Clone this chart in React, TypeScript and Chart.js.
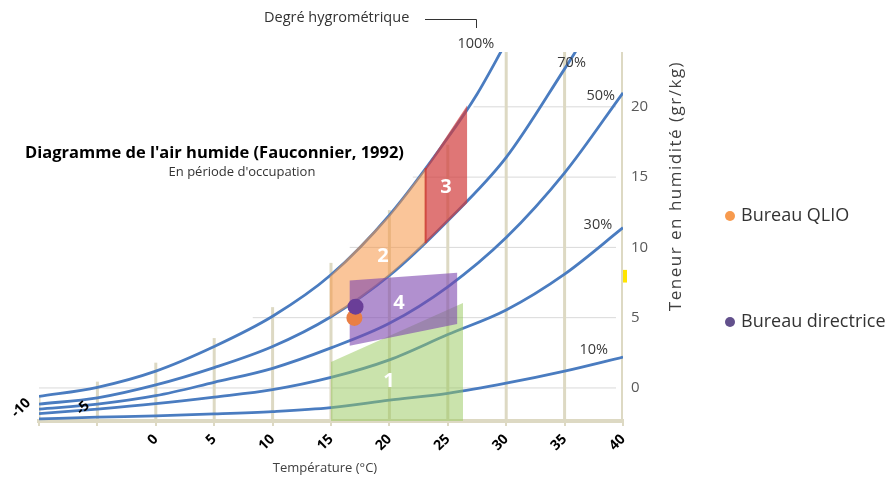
import React, { useEffect, useRef } from "react";
import { Chart, registerables } from "chart.js";

Chart.register(...registerables);

// ---------- data ----------
const xTicks = [-10, -5, 0, 5, 10, 15, 20, 25, 30, 35, 40];
const yTicks = [0, 5, 10, 15, 20];
const hiddenXTicks = [-10, -5];

// humidity curves (temperature °C -> teneur en humidité, as read on the chart)
const rh100T = [-10, -5, 0, 5, 10, 15, 20, 25, 27.5, 30];
const rh100V = [-0.6, 0.05, 1.2, 2.95, 5.1, 8.05, 12.3, 17.8, 20.9, 24.6];
const rh70T = [-10, -5, 0, 5, 10, 15, 20, 25, 30, 35, 36.3];
const rh70V = [-1.15, -0.7, 0.22, 1.45, 2.95, 5.07, 8.0, 11.9, 16.4, 22.7, 24.4];
const rhT = [-10, -5, 0, 5, 10, 15, 20, 25, 30, 35, 40];
const rh50V = [-1.5, -1.15, -0.55, 0.4, 1.4, 2.85, 4.6, 7.2, 10.7, 15.3, 21.0];
const rh30V = [-1.82, -1.5, -1.12, -0.65, -0.12, 0.75, 2.0, 3.8, 5.55, 8.1, 11.4];
const rh10V = [-2.2, -2.08, -1.98, -1.85, -1.68, -1.4, -0.87, -0.38, 0.34, 1.2, 2.2];

// comfort zones (polygons)
const zone1T = [15, 15, 26.3, 26.3];
const zone1V = [-2.35, 1.85, 6.05, -2.35];
const zone2T = [14.9, 14.9, 17.5, 20, 23.1, 23.1, 20, 17.5];
const zone2V = [5.0, 7.95, 10.15, 12.3, 15.65, 10.3, 8.0, 6.35];
const zone3T = [23.1, 23.1, 26.65, 26.65];
const zone3V = [10.3, 15.65, 20.1, 13.15];
const zone4T = [16.6, 25.8, 25.8, 16.6];
const zone4V = [7.65, 8.2, 4.55, 3.0];

// measured offices
const qlioT = [17];
const qlioV = [4.98];
const directriceT = [17.1];
const directriceV = [5.78];

// temperature lines (stop at saturation) and moisture lines
const vGridTop = [-0.5, 0.45, 1.8, 3.55, 5.75, 8.9, 12.65, 17.3, 23.9, 23.9, 23.9];
const hGridStart = [-10, 8.3, 16.6, 22, 27.2];
const hGridEnd = 39.4;

const Y_MIN = -2.35;
const Y_MAX = 23.9;

const curveLabels = ["100%", "70%", "50%", "30%", "10%"];
const curveLabelT = [27.4, 35.6, 38.1, 37.85, 37.5];
const curveLabelV = [24.47, 23.1, 20.77, 11.6, 2.7];
const zoneLabels = ["1", "2", "3", "4"];
const zoneLabelT = [19.97, 19.45, 24.85, 20.82];
const zoneLabelV = [0.5, 9.39, 14.3, 6.05];

// ---------- styles ----------
const TAN = "#ddd9c3";
const BLUE = "#4a7cc0";
const FONT = "'Open Sans', sans-serif";

const pts = (xs: number[], ys: number[]) => xs.map((x, i) => ({ x, y: ys[i] }));

const textPlugin = {
  id: "texts",
  afterDraw(chart: any) {
    const { ctx } = chart;
    const xs = chart.scales.x;
    const ys = chart.scales.y;
    ctx.save();

    // yellow marker on right edge
    ctx.fillStyle = "#ffe500";
    const yTop = ys.getPixelForValue(8.4);
    const yBot = ys.getPixelForValue(7.5);
    ctx.fillRect(xs.getPixelForValue(40), yTop, 4, yBot - yTop);

    // curve labels
    ctx.fillStyle = "#3a3a3a";
    ctx.font = `14.5px ${FONT}`;
    ctx.textAlign = "center";
    ctx.textBaseline = "middle";
    curveLabels.forEach((t, i) => {
      ctx.fillText(t, xs.getPixelForValue(curveLabelT[i]), ys.getPixelForValue(curveLabelV[i]));
    });

    // zone numbers
    ctx.fillStyle = "#ffffff";
    ctx.font = `bold 20px ${FONT}`;
    zoneLabels.forEach((t, i) => {
      ctx.fillText(t, xs.getPixelForValue(zoneLabelT[i]), ys.getPixelForValue(zoneLabelV[i]));
    });

    // odd x labels -10 and -5
    ctx.fillStyle = "#000";
    ctx.font = `bold 14px ${FONT}`;
    const odd = [
      { t: "-10", x: 21, y: 408 },
      { t: "-5", x: 83, y: 408 },
    ];
    odd.forEach((o) => {
      ctx.save();
      ctx.translate(o.x, o.y);
      ctx.rotate(-Math.PI / 4);
      ctx.fillText(o.t, 0, 0);
      ctx.restore();
    });

    // title
    ctx.fillStyle = "#000";
    ctx.font = `bold 16.5px ${FONT}`;
    ctx.textAlign = "left";
    ctx.fillText("Diagramme de l'air humide (Fauconnier, 1992)", 25, 153);
    ctx.fillStyle = "#333";
    ctx.font = `13px ${FONT}`;
    ctx.textAlign = "center";
    ctx.fillText("En période d'occupation", 242, 172);

    // Degré hygrométrique
    ctx.fillStyle = "#333";
    ctx.font = `14.5px ${FONT}`;
    ctx.textAlign = "left";
    ctx.fillText("Degré hygrométrique", 264, 18);
    ctx.strokeStyle = "#333";
    ctx.lineWidth = 1;
    ctx.beginPath();
    ctx.moveTo(425, 19.5);
    ctx.lineTo(476.5, 19.5);
    ctx.lineTo(476.5, 28);
    ctx.stroke();

    // axis titles
    ctx.fillStyle = "#404040";
    ctx.font = `13px ${FONT}`;
    ctx.textAlign = "center";
    ctx.fillText("Température (°C)", 325, 468);
    ctx.save();
    ctx.translate(676, 186);
    ctx.rotate(-Math.PI / 2);
    ctx.font = `17px ${FONT}`;
    try {
      (ctx as any).letterSpacing = "1.5px";
    } catch (e) {}
    ctx.fillText("Teneur en humidité (gr/kg)", 0, 0);
    ctx.restore();

    // legend
    const leg = [
      { t: "Bureau QLIO", c: "#f79a4e", y: 216 },
      { t: "Bureau directrice", c: "#62508c", y: 322 },
    ];
    ctx.font = `18px ${FONT}`;
    ctx.textAlign = "left";
    leg.forEach((l) => {
      ctx.fillStyle = l.c;
      ctx.beginPath();
      ctx.arc(730, l.y, 5, 0, Math.PI * 2);
      ctx.fill();
      ctx.fillStyle = "#333";
      ctx.fillText(l.t, 741, l.y);
    });

    ctx.restore();
  },
};

export default function App() {
  const ref = useRef<HTMLCanvasElement>(null);

  useEffect(() => {
    if (!ref.current) return;
    Chart.defaults.font.family = FONT;

    const curve = (data: any[], order = 50) => ({
      data,
      borderColor: BLUE,
      borderWidth: 2.8,
      pointRadius: 0,
      fill: false,
      cubicInterpolationMode: "monotone",
      order,
    });
    const zone = (data: any[], color: string, order: number) => ({
      data,
      borderWidth: 0,
      borderColor: "rgba(0,0,0,0)",
      backgroundColor: color,
      pointRadius: 0,
      fill: "shape",
      tension: 0,
      order,
    });

    const vGrid = xTicks.map((t, i) => ({
      data: [
        { x: t, y: Y_MIN },
        { x: t, y: vGridTop[i] },
      ],
      borderColor: TAN,
      borderWidth: t === 40 ? 4 : 3,
      pointRadius: 0,
      fill: false,
      order: 90,
    }));
    const hGrid = yTicks.map((v, i) => ({
      data: [
        { x: hGridStart[i], y: v },
        { x: hGridEnd, y: v },
      ],
      borderColor: "#d9d9d9",
      borderWidth: 1,
      pointRadius: 0,
      fill: false,
      order: 100,
    }));

    const datasets: any[] = [
      ...hGrid,
      ...vGrid,
      curve(pts(rh100T, rh100V)),
      curve(pts(rh70T, rh70V)),
      curve(pts(rhT, rh50V)),
      curve(pts(rhT, rh30V)),
      curve(pts(rhT, rh10V)),
      zone(pts(zone1T, zone1V), "rgba(150,200,90,0.5)", 40),
      zone(pts(zone2T, zone2V), "rgba(245,150,70,0.55)", 35),
      zone(pts(zone3T, zone3V), "rgba(210,60,60,0.7)", 30),
      {
        data: pts([zone3T[0], zone3T[1]], [zone3V[0], zone3V[1]]),
        borderColor: "rgba(205,60,50,0.85)",
        borderWidth: 2,
        pointRadius: 0,
        fill: false,
        order: 29,
      },
      zone(pts(zone4T, zone4V), "rgba(125,70,175,0.6)", 20),
      {
        label: "Bureau QLIO",
        data: pts(qlioT, qlioV),
        showLine: false,
        pointRadius: 8,
        pointBorderWidth: 0,
        pointBackgroundColor: "#e97f45",
        order: 2,
      },
      {
        label: "Bureau directrice",
        data: pts(directriceT, directriceV),
        showLine: false,
        pointRadius: 8,
        pointBorderWidth: 0,
        pointBackgroundColor: "#6a3e98",
        order: 1,
      },
    ];

    const chart = new Chart(ref.current, {
      type: "line",
      data: { datasets },
      options: {
        responsive: false,
        animation: false,
        layout: { padding: { left: 39, top: 52, right: 0, bottom: 0 } },
        plugins: { legend: { display: false }, tooltip: { enabled: false } },
        scales: {
          x: {
            type: "linear",
            position: "bottom",
            min: -10,
            max: 40,
            afterBuildTicks: (s: any) => {
              s.ticks = xTicks.map((v) => ({ value: v }));
            },
            afterFit: (s: any) => {
              s.height = 58;
            },
            grid: {
              display: true,
              drawOnChartArea: false,
              drawTicks: true,
              tickLength: 5,
              color: TAN,
              lineWidth: 2,
            },
            border: { display: true, color: TAN, width: 4 },
            ticks: {
              autoSkip: false,
              maxRotation: 45,
              minRotation: 45,
              padding: 5,
              color: "#000",
              font: { family: FONT, size: 14, weight: "bold" },
              callback: (v: any) => (hiddenXTicks.includes(Number(v)) ? "" : String(v)),
            },
          },
          y: {
            type: "linear",
            position: "right",
            min: Y_MIN,
            max: Y_MAX,
            afterBuildTicks: (s: any) => {
              s.ticks = yTicks.map((v) => ({ value: v }));
            },
            afterFit: (s: any) => {
              s.width = 263;
            },
            grid: { display: false, drawTicks: false },
            border: { display: false },
            ticks: {
              padding: 8,
              color: "#595959",
              font: { family: FONT, size: 15 },
            },
          },
        },
      } as any,
      plugins: [textPlugin],
    });
    return () => chart.destroy();
  }, []);

  return (
    <canvas
      ref={ref}
      width={886}
      height={479}
      style={{ position: "absolute", left: 0, top: 0, display: "block" }}
    />
  );
}
